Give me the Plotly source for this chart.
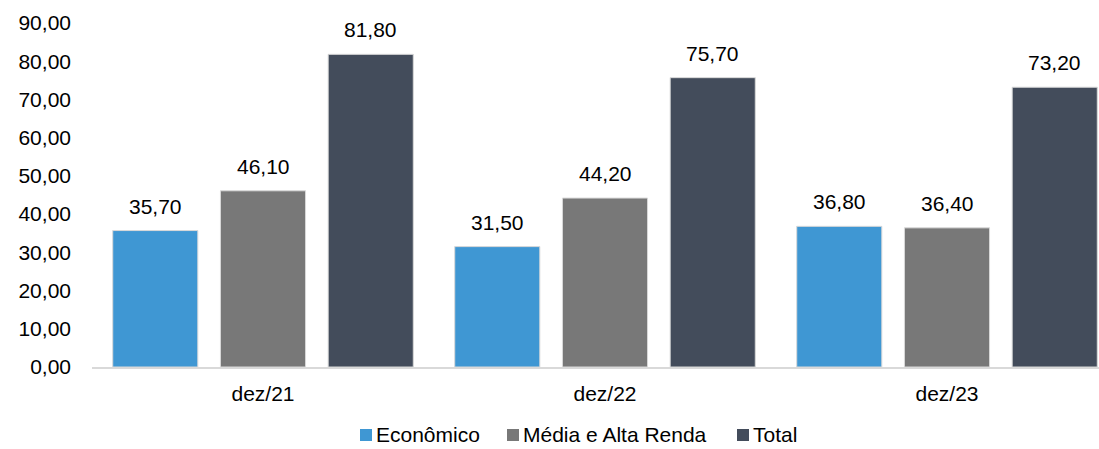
import plotly.graph_objects as go

# Dados
periodos = ["dez/21", "dez/22", "dez/23"]
economico = [35.70, 31.50, 36.80]
media_alta = [46.10, 44.20, 36.40]
total = [81.80, 75.70, 73.20]

series = [
    ("Econômico", economico, "#3F97D3"),
    ("Média e Alta Renda", media_alta, "#787878"),
    ("Total", total, "#434C5B"),
]

FONT = "Liberation Sans, Arial, sans-serif"
FS = 21
BARGAP = 0.055
GROUPGAP = 0.21

# geometria (px)
W, H = 1099, 449
ML, MR, MT, MB = 92, 0, 23, 82
PW, PH = W - ML - MR, H - MT - MB

def px_x(p):
    return (p - ML) / PW

def px_y(p):
    return (H - MB - p) / PH

fig = go.Figure()
idx = list(range(len(periodos)))
for name, vals, color in series:
    fig.add_trace(go.Bar(
        x=idx, y=vals, name=name, showlegend=False,
        marker=dict(color=color, line=dict(color="#D9D9D9", width=1)),
    ))

# rótulos de valor acima das barras
slot = (1 - BARGAP) / len(series)
for k, (name, vals, color) in enumerate(series):
    off = (k - (len(series) - 1) / 2) * slot
    for i, v in enumerate(vals):
        fig.add_annotation(
            x=i + off, y=v, xref="x", yref="y",
            text=f"{v:.2f}".replace(".", ","),
            showarrow=False, yanchor="bottom", yshift=11,
            font=dict(family=FONT, size=FS, color="#000000"),
        )

# legenda na base
legend_x = [360, 507, 737]
sq = 12
ly = 435
for (name, vals, color), lx in zip(series, legend_x):
    fig.add_shape(
        type="rect", xref="paper", yref="paper",
        x0=px_x(lx), x1=px_x(lx + sq),
        y0=px_y(ly - sq / 2), y1=px_y(ly + sq / 2),
        fillcolor=color, line=dict(width=0),
    )
    fig.add_annotation(
        x=px_x(lx + sq + 2), y=px_y(ly), xref="paper", yref="paper",
        text=name, showarrow=False, xanchor="left", yanchor="middle",
        font=dict(family=FONT, size=FS, color="#000000"),
    )

fig.update_layout(
    width=W, height=H,
    margin=dict(l=ML, r=MR, t=MT, b=MB, autoexpand=False),
    paper_bgcolor="white", plot_bgcolor="white",
    barmode="group", bargap=BARGAP, bargroupgap=GROUPGAP,
    separators=",.",
    font=dict(family=FONT, size=FS, color="#000000"),
    showlegend=False,
    xaxis=dict(
        tickmode="array", tickvals=idx, ticktext=periodos,
        range=[-0.5, 2.5 - 19 / 342],
        showline=True, linecolor="#D9D9D9", linewidth=2,
        showgrid=False, zeroline=False, ticks="", ticklabelstandoff=7,
        automargin=False,
    ),
    yaxis=dict(
        range=[0, 90], tick0=0, dtick=10, tickformat=".2f",
        showgrid=False, zeroline=False, showline=False,
        ticks="", ticklabelstandoff=20, automargin=False,
    ),
)

fig.write_html("out.html")
